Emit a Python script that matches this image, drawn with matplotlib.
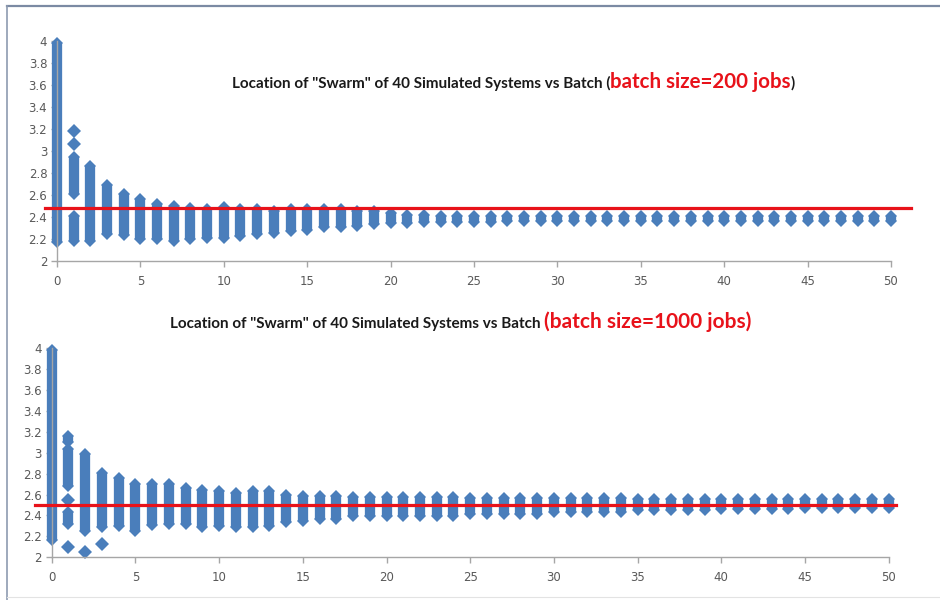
import matplotlib
matplotlib.use("Agg")
import matplotlib.pyplot as plt
from matplotlib.lines import Line2D
from matplotlib.ticker import MultipleLocator, FuncFormatter

# batch index shared by both panels
batches = list(range(51))

# batch size = 200 jobs: low / high end of the swarm at each batch
top_lo = [2.17, 2.18, 2.18, 2.24, 2.23, 2.20, 2.20, 2.18, 2.20, 2.21,
          2.21, 2.22, 2.24, 2.25, 2.27, 2.28, 2.31, 2.31, 2.32, 2.33,
          2.34, 2.34, 2.35, 2.35, 2.35, 2.355, 2.355, 2.36, 2.36, 2.36,
          2.365, 2.365, 2.365, 2.365, 2.365, 2.365, 2.365, 2.365, 2.365, 2.365,
          2.365, 2.365, 2.365, 2.365, 2.365, 2.365, 2.365, 2.365, 2.365, 2.365,
          2.365]
top_hi = [3.98, 2.94, 2.86, 2.69, 2.61, 2.56, 2.52, 2.50, 2.48, 2.47,
          2.49, 2.47, 2.47, 2.45, 2.47, 2.47, 2.47, 2.47, 2.45, 2.45,
          2.43, 2.42, 2.42, 2.41, 2.41, 2.41, 2.41, 2.41, 2.41, 2.41,
          2.405, 2.405, 2.405, 2.405, 2.405, 2.405, 2.405, 2.405, 2.405, 2.405,
          2.405, 2.405, 2.405, 2.405, 2.405, 2.405, 2.405, 2.405, 2.405, 2.405,
          2.405]
# empty stretches inside a column: (batch, gap low, gap high)
top_gaps = [(1, 2.41, 2.61)]
# systems sitting apart from their column: (batch, value)
top_singles = [(1, 3.06), (1, 3.18)]
top_target = 2.48

# batch size = 1000 jobs
bot_lo = [2.17, 2.32, 2.25, 2.29, 2.30, 2.25, 2.31, 2.32, 2.32, 2.29,
          2.30, 2.29, 2.29, 2.30, 2.34, 2.35, 2.37, 2.37, 2.40, 2.40,
          2.40, 2.40, 2.40, 2.40, 2.40, 2.41, 2.41, 2.41, 2.41, 2.41,
          2.43, 2.43, 2.43, 2.43, 2.43, 2.45, 2.45, 2.45, 2.45, 2.45,
          2.46, 2.46, 2.46, 2.46, 2.46, 2.47, 2.47, 2.47, 2.47, 2.47,
          2.47]
bot_hi = [3.98, 3.16, 2.99, 2.81, 2.76, 2.70, 2.70, 2.70, 2.66, 2.64,
          2.63, 2.62, 2.63, 2.63, 2.60, 2.59, 2.59, 2.59, 2.58, 2.58,
          2.58, 2.58, 2.58, 2.58, 2.58, 2.57, 2.57, 2.57, 2.57, 2.57,
          2.57, 2.57, 2.57, 2.57, 2.57, 2.56, 2.56, 2.56, 2.56, 2.56,
          2.56, 2.56, 2.56, 2.56, 2.56, 2.56, 2.56, 2.56, 2.56, 2.56,
          2.56]
bot_gaps = [(1, 3.04, 3.10), (1, 2.43, 2.68)]
bot_singles = [(1, 2.55), (1, 2.10), (2, 2.05), (3, 2.13)]
bot_target = 2.50

blue = "#4a7ebb"
red = "#e8121a"
grey = "#595959"


def segments(b, lo, hi, gaps):
    cuts = sorted([(g0, g1) for bb, g0, g1 in gaps if bb == b])
    out = []
    start = lo
    for g0, g1 in cuts:
        out.append((start, g0))
        start = g1
    out.append((start, hi))
    return out


def draw_panel(ax, lo, hi, gaps, singles, target, line_span):
    for b in batches:
        for s0, s1 in segments(b, lo[b], hi[b], gaps):
            ax.vlines(b, s0, s1, color=blue, lw=7.4, zorder=2, clip_on=False)
            ax.plot([b, b], [s0, s1], ls="none", marker="D", ms=6.3,
                    color=blue, mew=0, zorder=2, clip_on=False)
    sx = [b for b, v in singles]
    sy = [v for b, v in singles]
    ax.plot(sx, sy, ls="none", marker="D", ms=6.8, color=blue, mew=0,
            zorder=2, clip_on=False)
    ax.plot(line_span, [target, target], color=red, lw=2.3, zorder=3,
            clip_on=False)

    ax.set_xlim(0, 50)
    ax.set_ylim(2, 4)
    ax.xaxis.set_major_locator(MultipleLocator(5))
    ax.yaxis.set_major_locator(MultipleLocator(0.2))
    ax.yaxis.set_major_formatter(FuncFormatter(lambda v, p: "%g" % round(v, 1)))
    for side in ["top", "right"]:
        ax.spines[side].set_visible(False)
    for side in ["left", "bottom"]:
        ax.spines[side].set_color("#a6a6a6")
        ax.spines[side].set_linewidth(1.0)
    ax.tick_params(direction="out", length=4, width=1, color="#a6a6a6",
                   labelcolor=grey, labelsize=8.5)
    ax.tick_params(axis="x", pad=6)
    ax.tick_params(axis="y", pad=3)


def title(fig, x_px, base_px, parts):
    renderer = fig.canvas.get_renderer()
    x = x_px
    for s, c, fs in parts:
        t = fig.text(x / 940, 1 - base_px / 600, s, color=c, fontsize=fs,
                     fontweight="bold", family=["Lato", "DejaVu Sans"],
                     ha="left", va="baseline")
        bb = t.get_window_extent(renderer)
        x = bb.x1


fig = plt.figure(figsize=(9.4, 6.0), dpi=100)

ax1 = fig.add_axes([57 / 940, 1 - 260.7 / 600, 834 / 940, 220 / 600])
draw_panel(ax1, top_lo, top_hi, top_gaps, top_singles, top_target, [-0.72, 51.2])

ax2 = fig.add_axes([51.7 / 940, 1 - 557.3 / 600, 837 / 940, 209 / 600])
draw_panel(ax2, bot_lo, bot_hi, bot_gaps, bot_singles, bot_target, [-1.0, 50.45])

title(fig, 232, 88, [
    ("Location of \"Swarm\" of 40 Simulated Systems vs Batch (", "#1a1a1a", 11),
    ("batch size=200 jobs", red, 14.8),
    (")", "#1a1a1a", 11),
])
title(fig, 170, 328, [
    ("Location of \"Swarm\" of 40 Simulated Systems vs Batch ", "#1a1a1a", 11),
    ("(batch size=1000 jobs)", red, 15),
])

# frame around the picture
fig.add_artist(Line2D([7 / 940, 1], [1 - 6 / 600, 1 - 6 / 600],
                      transform=fig.transFigure, color="#7b8aa3", lw=1.6))
fig.add_artist(Line2D([7 / 940, 7 / 940], [0, 1 - 6 / 600],
                      transform=fig.transFigure, color="#8e9bb0", lw=1.2))
fig.add_artist(Line2D([7 / 940, 1], [3 / 600, 3 / 600],
                      transform=fig.transFigure, color="#e3e3e3", lw=0.8))

fig.savefig("out.png", dpi=100)
